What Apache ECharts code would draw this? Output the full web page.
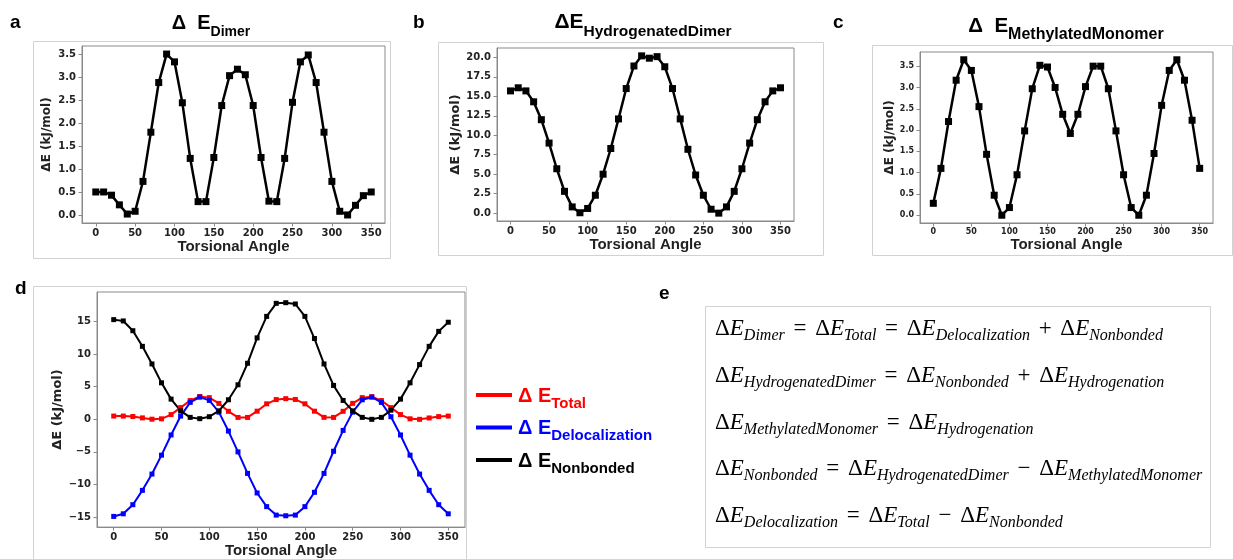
<!DOCTYPE html>
<html>
<head>
<meta charset="utf-8">
<script src="https://cdn.jsdelivr.net/npm/echarts@6/dist/echarts.min.js"></script>
<style>
  html, body { margin: 0; padding: 0; background: #fff; }
  #chart { width: 1233px; height: 559px; }
</style>
</head>
<body>
<div id="chart"></div>
<script>
// torsional angle scan, 0..350 step 10
const angles = [0,10,20,30,40,50,60,70,80,90,100,110,120,130,140,150,160,170,180,190,200,210,220,230,240,250,260,270,280,290,300,310,320,330,340,350];

// a) dimer
const dimer = [0.5,0.5,0.43,0.22,0.02,0.08,0.73,1.8,2.88,3.5,3.33,2.44,1.23,0.29,0.29,1.25,2.38,3.03,3.17,3.05,2.38,1.25,0.3,0.29,1.23,2.45,3.33,3.48,2.88,1.8,0.73,0.08,0.0,0.21,0.42,0.5];
// b) hydrogenated dimer
const hydroDimer = [15.7,16.1,15.7,14.3,12.0,9.0,5.7,2.8,0.8,0.05,0.6,2.3,5.0,8.3,12.1,16.0,18.9,20.2,19.9,20.1,18.8,16.0,12.1,8.2,4.9,2.3,0.5,0.0,0.8,2.8,5.7,9.0,12.0,14.3,15.7,16.1];
// c) methylated monomer
const methylMono = [0.28,1.1,2.2,3.17,3.65,3.4,2.55,1.43,0.47,0.0,0.18,0.95,1.98,2.97,3.52,3.48,3.0,2.37,1.92,2.37,3.02,3.5,3.5,2.97,1.98,0.95,0.18,0.0,0.47,1.45,2.58,3.4,3.65,3.17,2.23,1.1];
// d) decomposition
const total = [0.5,0.5,0.43,0.22,0.02,0.08,0.73,1.8,2.88,3.5,3.33,2.44,1.23,0.29,0.29,1.25,2.38,3.03,3.17,3.05,2.38,1.25,0.3,0.29,1.23,2.45,3.33,3.48,2.88,1.8,0.73,0.08,0.0,0.21,0.42,0.5];
const deloc = [-14.9,-14.5,-13.1,-10.9,-8.4,-5.5,-2.4,0.5,2.6,3.4,2.9,1.1,-1.8,-5.0,-8.3,-11.3,-13.4,-14.7,-14.8,-14.7,-13.4,-11.2,-8.3,-4.9,-1.7,1.1,3.0,3.4,2.6,0.4,-2.4,-5.5,-8.4,-10.9,-13.1,-14.5];
const nonbonded = [15.3,15.1,13.6,11.2,8.5,5.6,3.1,1.3,0.3,0.1,0.4,1.3,3.0,5.3,8.6,12.5,15.8,17.8,17.9,17.7,15.8,12.4,8.5,5.2,2.9,1.3,0.3,0.0,0.3,1.4,3.1,5.6,8.4,11.2,13.5,14.9];

// tick labels
const xTicks = [0,50,100,150,200,250,300,350];
const yTicksA = [0,0.5,1,1.5,2,2.5,3,3.5];
const yTicksB = [0,2.5,5,7.5,10,12.5,15,17.5,20];
const yTicksC = [0,0.5,1,1.5,2,2.5,3,3.5];
const yTicksD = [-15,-10,-5,0,5,10,15];

const legendNames = ['Total','Delocalization','Nonbonded'];
const legendColors = ['#ff0000','#0000ff','#000000'];

const chart = echarts.init(document.getElementById('chart'));

const tickFont = 'DejaVu Sans';
const headFont = 'Liberation Sans';
const frame = '#8a8a8a';
const pairs = ys => angles.map((a, i) => [a, ys[i]]);

function xAxisFor(idx, fs, gap) {
  return {
    type: 'value', gridIndex: idx, min: -17.5, max: 367.5,
    axisLine: { show: true, onZero: false, lineStyle: { color: frame } },
    axisTick: { show: true, length: 3.5, customValues: xTicks, lineStyle: { color: frame } },
    axisLabel: { customValues: xTicks, margin: 5, fontFamily: tickFont, fontWeight: 'bold', fontSize: fs, color: '#222' },
    splitLine: { show: false },
    name: 'Torsional Angle', nameLocation: 'middle', nameGap: gap,
    nameTextStyle: { fontFamily: headFont, fontWeight: 'bold', fontSize: 15, color: '#222' }
  };
}
function yAxisFor(idx, min, max, ticks, fmt, fs, gap, nfs) {
  return {
    type: 'value', gridIndex: idx, min: min, max: max,
    axisLine: { show: true, onZero: false, lineStyle: { color: frame } },
    axisTick: { show: true, length: 3.5, customValues: ticks, lineStyle: { color: frame } },
    axisLabel: { customValues: ticks, margin: 6, formatter: fmt, fontFamily: tickFont, fontWeight: 'bold', fontSize: fs, color: '#222' },
    splitLine: { show: false },
    name: 'ΔE (kJ/mol)', nameLocation: 'middle', nameGap: gap,
    nameTextStyle: { fontFamily: tickFont, fontWeight: 'bold', fontSize: nfs, color: '#222' }
  };
}
const f1 = v => v.toFixed(1);
const fMinus = v => String(v).replace('-', '\u2212');

// rich text for headings with subscripts
function headRich(mfs, sfs, pad) {
  return {
    m: { fontFamily: headFont, fontWeight: 'bold', fontSize: mfs, lineHeight: mfs + 2, verticalAlign: 'top', color: '#000' },
    s: { fontFamily: headFont, fontWeight: 'bold', fontSize: sfs, lineHeight: sfs, verticalAlign: 'top', padding: [pad, 0, 0, 0], color: '#000' }
  };
}
function headTitle(txt, cx, top, mfs, sfs, pad) {
  return { text: txt, left: cx, top: top, textAlign: 'center', padding: 0, textStyle: { rich: headRich(mfs, sfs, pad) } };
}

// equations of panel e
const eqRich = {
  D: { fontFamily: 'Liberation Serif', fontSize: 23, lineHeight: 26, verticalAlign: 'top', color: '#222' },
  E: { fontFamily: 'Liberation Serif', fontStyle: 'italic', fontSize: 23, lineHeight: 26, verticalAlign: 'top', color: '#222' },
  s: { fontFamily: 'Liberation Serif', fontStyle: 'italic', fontSize: 16, lineHeight: 16, verticalAlign: 'top', padding: [11, 0, 0, 0], color: '#222' },
  o: { fontFamily: 'Liberation Serif', fontSize: 23, lineHeight: 26, verticalAlign: 'top', padding: [0, 3, 0, 3], color: '#222' }
};
function eq(parts) {
  return parts.map(p => (p === '=' || p === '+' || p === '\u2212') ? `{o| ${p} }` : `{D|Δ}{E|E}{s|${p}}`).join('');
}
const equations = [
  ['Dimer', '=', 'Total', '=', 'Delocalization', '+', 'Nonbonded'],
  ['HydrogenatedDimer', '=', 'Nonbonded', '+', 'Hydrogenation'],
  ['MethylatedMonomer', '=', 'Hydrogenation'],
  ['Nonbonded', '=', 'HydrogenatedDimer', '\u2212', 'MethylatedMonomer'],
  ['Delocalization', '=', 'Total', '\u2212', 'Nonbonded']
];
const eqTops = [317, 364, 411, 457, 504];

const box = (x, y, w, h) => ({ type: 'rect', shape: { x: x, y: y, width: w, height: h }, style: { fill: 'none', stroke: '#d2d2d2', lineWidth: 1 }, silent: true });
const letter = (t, x, y) => ({ type: 'text', style: { x: x, y: y, text: t, fontFamily: headFont, fontWeight: 'bold', fontSize: 19, fill: '#000', verticalAlign: 'bottom' } });

const option = {
  animation: false,
  backgroundColor: '#fff',
  title: [
    headTitle('{m|Δ  E}{s|Dimer}', 211, 13, 20, 14, 12),
    headTitle('{m|ΔE}{s|HydrogenatedDimer}', 643, 12, 21, 15.5, 12),
    headTitle('{m|Δ  E}{s|MethylatedMonomer}', 1066, 16, 20.5, 16, 11)
  ],
  grid: [
    { left: 82, top: 46, width: 303, height: 177, show: true, borderColor: frame, borderWidth: 1 },
    { left: 497, top: 48, width: 297, height: 173, show: true, borderColor: frame, borderWidth: 1 },
    { left: 920, top: 52, width: 293, height: 171, show: true, borderColor: frame, borderWidth: 1 },
    { left: 97, top: 292, width: 368, height: 239, show: true, borderColor: frame, borderWidth: 1 }
  ],
  xAxis: [xAxisFor(0, 10, 14), xAxisFor(1, 10, 11), xAxisFor(2, 8, 13), xAxisFor(3, 10, 15)],
  yAxis: [
    yAxisFor(0, -0.175, 3.675, yTicksA, f1, 10, 29, 12),
    yAxisFor(1, -1.01, 21.21, yTicksB, f1, 10, 33, 13),
    yAxisFor(2, -0.1825, 3.8325, yTicksC, f1, 8, 20, 12),
    yAxisFor(3, -16.54, 19.54, yTicksD, fMinus, 10, 33, 13)
  ],
  legend: {
    orient: 'vertical', left: 471, top: 379, itemWidth: 36, itemHeight: 4, itemGap: 5.5,
    icon: 'rect', selectedMode: false,
    data: legendNames.map((n, i) => ({ name: n, textStyle: { color: legendColors[i] } })),
    formatter: n => `{m|Δ E}{s|${n}}`,
    textStyle: {
      rich: {
        m: { fontFamily: headFont, fontWeight: 'bold', fontSize: 20, lineHeight: 22, verticalAlign: 'top', padding: [2, 0, 0, 1] },
        s: { fontFamily: headFont, fontWeight: 'bold', fontSize: 15, lineHeight: 15, verticalAlign: 'top', padding: [12, 0, 0, 0] }
      }
    }
  },
  series: [
    { type: 'line', xAxisIndex: 0, yAxisIndex: 0, data: pairs(dimer), symbol: 'rect', symbolSize: 7, color: '#000', lineStyle: { width: 2.5 } },
    { type: 'line', xAxisIndex: 1, yAxisIndex: 1, data: pairs(hydroDimer), symbol: 'rect', symbolSize: 7, color: '#000', lineStyle: { width: 2.5 } },
    { type: 'line', xAxisIndex: 2, yAxisIndex: 2, data: pairs(methylMono), symbol: 'rect', symbolSize: 7, color: '#000', lineStyle: { width: 2.5 } },
    { name: 'Total', type: 'line', xAxisIndex: 3, yAxisIndex: 3, data: pairs(total), symbol: 'rect', symbolSize: 5, color: legendColors[0], lineStyle: { width: 2 } },
    { name: 'Delocalization', type: 'line', xAxisIndex: 3, yAxisIndex: 3, data: pairs(deloc), symbol: 'rect', symbolSize: 5, color: legendColors[1], lineStyle: { width: 2 } },
    { name: 'Nonbonded', type: 'line', xAxisIndex: 3, yAxisIndex: 3, data: pairs(nonbonded), symbol: 'rect', symbolSize: 5, color: legendColors[2], lineStyle: { width: 2 } }
  ],
  graphic: [
    box(33.5, 41.5, 357, 217),
    box(438.5, 42.5, 385, 213),
    box(872.5, 45.5, 360, 210),
    box(33.5, 286.5, 433, 290),
    box(705.5, 306.5, 505, 241),
    letter('a', 10, 32),
    letter('b', 413, 32),
    letter('c', 833, 32),
    letter('d', 15, 298),
    letter('e', 659, 303)
  ].concat(equations.map((e, i) => ({
    type: 'text',
    style: { x: 715, y: eqTops[i], text: eq(e), rich: eqRich, verticalAlign: 'top' }
  })))
};

chart.setOption(option);
</script>
</body>
</html>
